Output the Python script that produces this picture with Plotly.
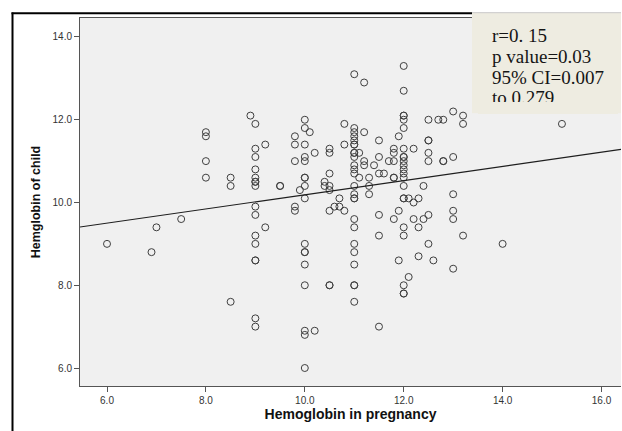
import plotly.graph_objects as go

# ---------------- data ----------------
hb_pregnancy = [
    6.0, 6.9, 7.0, 7.5,
    8.0, 8.0, 8.0, 8.0,
    8.5, 8.5, 8.5,
    8.9,
    9.0, 9.0, 9.0, 9.0, 9.0, 9.0, 9.0, 9.0, 9.0, 9.0, 9.0, 9.0, 9.0, 9.0, 9.0, 9.0,
    9.2, 9.2,
    9.5, 9.5,
    9.8, 9.8, 9.8, 9.8, 9.8,
    9.9,
    10.0, 10.0, 10.0, 10.0, 10.0, 10.0, 10.0, 10.0, 10.0, 10.0, 10.0, 10.0, 10.0, 10.0, 10.0, 10.0, 10.0,
    10.1,
    10.2, 10.2,
    10.4, 10.4,
    10.5, 10.5, 10.5, 10.5, 10.5, 10.5, 10.5, 10.5,
    10.6,
    10.7, 10.7,
    10.8, 10.8, 10.8,
    11.0, 11.0, 11.0, 11.0, 11.0, 11.0, 11.0, 11.0, 11.0, 11.0, 11.0, 11.0, 11.0, 11.0, 11.0, 11.0,
    11.0, 11.0, 11.0, 11.0, 11.0, 11.0, 11.0, 11.0, 11.0,
    11.1, 11.1,
    11.2, 11.2, 11.2, 11.2,
    11.3, 11.3, 11.3,
    11.4,
    11.5, 11.5, 11.5, 11.5, 11.5, 11.5,
    11.6,
    11.7,
    11.8, 11.8, 11.8, 11.8, 11.8, 11.8,
    11.9, 11.9, 11.9,
    12.0, 12.0, 12.0, 12.0, 12.0, 12.0, 12.0, 12.0, 12.0, 12.0, 12.0, 12.0, 12.0, 12.0, 12.0,
    12.0, 12.0, 12.0, 12.0, 12.0, 12.0, 12.0,
    12.1, 12.1,
    12.2, 12.2, 12.2,
    12.3, 12.3, 12.3,
    12.4, 12.4,
    12.5, 12.5, 12.5, 12.5, 12.5, 12.5, 12.5,
    12.6,
    12.7,
    12.8, 12.8, 12.8,
    13.0, 13.0, 13.0, 13.0, 13.0, 13.0,
    13.2, 13.2, 13.2,
    14.0,
    15.2,
]
hb_child = [
    9.0, 8.8, 9.4, 9.6,
    11.7, 11.6, 11.0, 10.6,
    10.6, 10.4, 7.6,
    12.1,
    11.9, 11.3, 11.1, 10.8, 10.6, 10.5, 10.5, 10.4, 9.9, 9.7, 9.2, 9.0, 8.6, 8.6, 7.2, 7.0,
    11.4, 9.4,
    10.4, 10.4,
    11.6, 11.4, 11.0, 9.9, 9.8,
    10.3,
    12.0, 11.8, 11.4, 11.1, 11.0, 10.6, 10.6, 10.4, 10.1, 9.0, 8.8, 8.8, 8.5, 8.0, 6.9, 6.8, 6.0,
    11.7,
    11.2, 6.9,
    10.5, 10.4,
    11.3, 11.2, 10.7, 10.4, 10.3, 9.8, 8.0, 8.0,
    9.9,
    10.1, 9.9,
    11.9, 11.4, 9.8,
    13.1, 11.8, 11.7, 11.6, 11.5, 11.4, 11.4, 11.2, 11.2, 11.1, 10.9, 10.8, 10.7, 10.4, 10.2, 10.1,
    10.1, 9.6, 9.4, 9.0, 8.8, 8.5, 8.0, 8.0, 7.6,
    11.2, 10.6,
    12.9, 11.7, 11.0, 10.9,
    10.6, 10.4, 10.2,
    10.9,
    11.5, 11.1, 10.7, 9.7, 9.2, 7.0,
    10.7,
    11.0,
    11.3, 11.2, 11.0, 10.6, 10.6, 9.6,
    11.6, 9.8, 8.6,
    13.3, 12.7, 12.1, 12.1, 12.0, 11.8, 11.3, 11.1, 11.1, 11.0, 10.9, 10.8, 10.7, 10.6, 10.4,
    10.1, 10.1, 9.4, 9.2, 8.0, 7.8, 7.8,
    10.1, 8.2,
    11.3, 10.0, 9.6,
    10.1, 9.4, 8.7,
    10.4, 9.6,
    12.0, 11.5, 11.5, 11.2, 11.0, 9.7, 9.0,
    8.6,
    12.0,
    12.0, 11.0, 11.0,
    12.2, 11.1, 10.2, 9.8, 9.6, 8.4,
    12.1, 11.9, 9.2,
    9.0,
    11.9,
]
assert len(hb_pregnancy) == len(hb_child)

# fitted regression line
fit_slope = 0.1716
fit_intercept = 8.47

x_ticks = [6.0, 8.0, 10.0, 12.0, 14.0, 16.0]
y_ticks = [6.0, 8.0, 10.0, 12.0, 14.0]
x_title = "Hemoglobin in pregnancy"
y_title = "Hemglobin of child"
stats_lines = ["r=0. 15", "p value=0.03", "95% CI=0.007", "to 0.279"]

# ---------------- layout geometry ----------------
W, H = 621, 431
ml, mr, mt, mb = 80, 0, 18, 45
pw = W - ml - mr
ph = H - mt - mb
x_range = [5.454, 16.394]
y_range = [5.565, 14.459]


def px2x(px):
    return (px - ml) / pw


def py2y(py):
    return (H - mb - py) / ph


fig = go.Figure()

fig.add_trace(go.Scatter(
    x=hb_pregnancy, y=hb_child, mode="markers",
    marker=dict(symbol="circle-open", size=7, color="#3f3f3f",
                line=dict(width=1, color="#3f3f3f")),
    showlegend=False, hoverinfo="x+y",
))

line_x = [x_range[0], x_range[1]]
line_y = [fit_intercept + fit_slope * v for v in line_x]
fig.add_trace(go.Scatter(
    x=line_x, y=line_y, mode="lines",
    line=dict(color="#1e1e1e", width=1.1),
    showlegend=False, hoverinfo="skip",
))

tick_font = dict(family="Liberation Sans, Arial, sans-serif", size=10, color="#333333")

fig.update_xaxes(
    range=x_range, tickvals=x_ticks, ticktext=[f"{v:.1f}" for v in x_ticks],
    showgrid=False, zeroline=False,
    showline=True, mirror=True, linecolor="#555555", linewidth=1,
    ticks="outside", ticklen=5, tickcolor="#555555", tickwidth=1,
    tickfont=tick_font,
    title=dict(text=f"<b>{x_title}</b>", standoff=4,
               font=dict(family="Liberation Sans, Arial, sans-serif", size=14, color="#111111")),
)
fig.update_yaxes(
    range=y_range, tickvals=y_ticks, ticktext=[f"{v:.1f}" for v in y_ticks],
    showgrid=False, zeroline=False,
    showline=True, mirror=False, linecolor="#555555", linewidth=1,
    ticks="outside", ticklen=5, tickcolor="#555555", tickwidth=1,
    tickfont=tick_font,
    title=dict(text=f"<b>{y_title}</b>", standoff=9,
               font=dict(family="Liberation Sans, Arial, sans-serif", size=12.5, color="#111111")),
)

shapes = [
    # outer black frame (left and top)
    dict(type="line", xref="paper", yref="paper",
         x0=px2x(12.5), x1=px2x(12.5), y0=py2y(12.5), y1=py2y(H),
         line=dict(color="black", width=2), layer="above"),
    dict(type="line", xref="paper", yref="paper",
         x0=px2x(11.5), x1=px2x(472), y0=py2y(13.3), y1=py2y(13.3),
         line=dict(color="black", width=2), layer="above"),
    # statistics box
    dict(type="rect", xref="paper", yref="paper",
         x0=px2x(472), x1=1.0, y0=py2y(113.3), y1=py2y(12.7),
         fillcolor="#EEECE1", line=dict(width=0), layer="above"),
    dict(type="line", xref="paper", yref="paper",
         x0=px2x(472), x1=1.0, y0=py2y(12.7), y1=py2y(12.7),
         line=dict(color="#c8c8c8", width=1), layer="above"),
]

annotations = []
centers = [35.5, 56.3, 77.1, 97.9]
for txt, cy in zip(stats_lines, centers):
    annotations.append(dict(
        xref="paper", yref="paper", x=px2x(491), y=py2y(cy),
        xanchor="left", yanchor="middle", showarrow=False, text=txt,
        font=dict(family="Liberation Serif, Times New Roman, serif", size=19, color="#151515"),
        borderpad=0,
    ))
# the text frame of the box clips the last line
annotations.append(dict(
    xref="paper", yref="paper", x=px2x(478), y=py2y(101.5),
    xanchor="left", yanchor="top", showarrow=False, text=" ",
    width=140, height=11.8, bgcolor="#EEECE1", borderpad=0, borderwidth=0,
))

fig.update_layout(
    width=W, height=H,
    margin=dict(l=ml, r=mr, t=mt, b=mb, pad=0),
    paper_bgcolor="white", plot_bgcolor="#F0F0F0",
    shapes=shapes, annotations=annotations,
    font=dict(family="Liberation Sans, Arial, sans-serif"),
)

fig.write_html(
    "out.html", config={"displayModeBar": False},
    post_script=("document.documentElement.style.margin='0px';"
                 "document.documentElement.style.overflow='hidden';"
                 "document.body.style.margin='0px';"
                 "document.body.style.overflow='hidden';"),
)
